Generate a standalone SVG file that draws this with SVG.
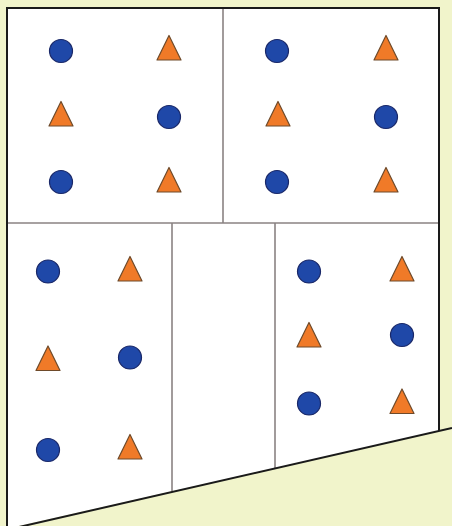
<svg xmlns="http://www.w3.org/2000/svg" width="452" height="526" viewBox="0 0 452 526">
<style>
.c{fill:#1f48a8;stroke:#1a2868;stroke-width:1.2}
.t{fill:#f07a28;stroke:#6e4a2a;stroke-width:1.2;stroke-linejoin:round}
.d{stroke:#8a8282;stroke-width:1.6;fill:none}
.b{stroke:#1a1a1a;stroke-width:2;fill:none}
</style>
<defs>
<circle id="ci" r="11.5" class="c"/>
<polygon id="tr" points="0,-12.5 12,12 -12,12" class="t"/>
<clipPath id="box"><polygon points="0,0 452,0 452,428 23,525 0,530"/></clipPath>
</defs>
<rect width="452" height="526" fill="#f1f4cb"/>
<g clip-path="url(#box)">
<rect x="7" y="8" width="432" height="530" fill="#ffffff"/>
</g>
<g id="connectors">
<line class="d" x1="223" y1="8" x2="223" y2="223"/>
<line class="d" x1="7" y1="223" x2="439" y2="223"/>
<line class="d" x1="172" y1="223" x2="172" y2="491"/>
<line class="d" x1="275" y1="223" x2="275" y2="468"/>
<path class="b" d="M7,526 V8 H439 V431"/>
<line class="b" x1="19" y1="527" x2="452" y2="428"/>
</g>
<g id="cell-top-left">
<use href="#ci" x="61" y="51"/><use href="#tr" x="169" y="48"/>
<use href="#tr" x="61" y="114"/><use href="#ci" x="169" y="117"/>
<use href="#ci" x="61" y="182"/><use href="#tr" x="169" y="180"/>
</g>
<g id="cell-top-right">
<use href="#ci" x="277" y="51"/><use href="#tr" x="386" y="48"/>
<use href="#tr" x="278" y="114"/><use href="#ci" x="386" y="117"/>
<use href="#ci" x="277" y="182"/><use href="#tr" x="386" y="180"/>
</g>
<g id="cell-bottom-left">
<use href="#ci" x="48" y="271.5"/><use href="#tr" x="130" y="269"/>
<use href="#tr" x="48" y="358.5"/><use href="#ci" x="130" y="357.5"/>
<use href="#ci" x="48" y="450"/><use href="#tr" x="130" y="447"/>
</g>
<g id="cell-bottom-middle"></g>
<g id="cell-bottom-right">
<use href="#ci" x="309" y="271.5"/><use href="#tr" x="402" y="269"/>
<use href="#tr" x="309" y="335"/><use href="#ci" x="402" y="335"/>
<use href="#ci" x="309" y="403.5"/><use href="#tr" x="402" y="401.5"/>
</g>
</svg>
